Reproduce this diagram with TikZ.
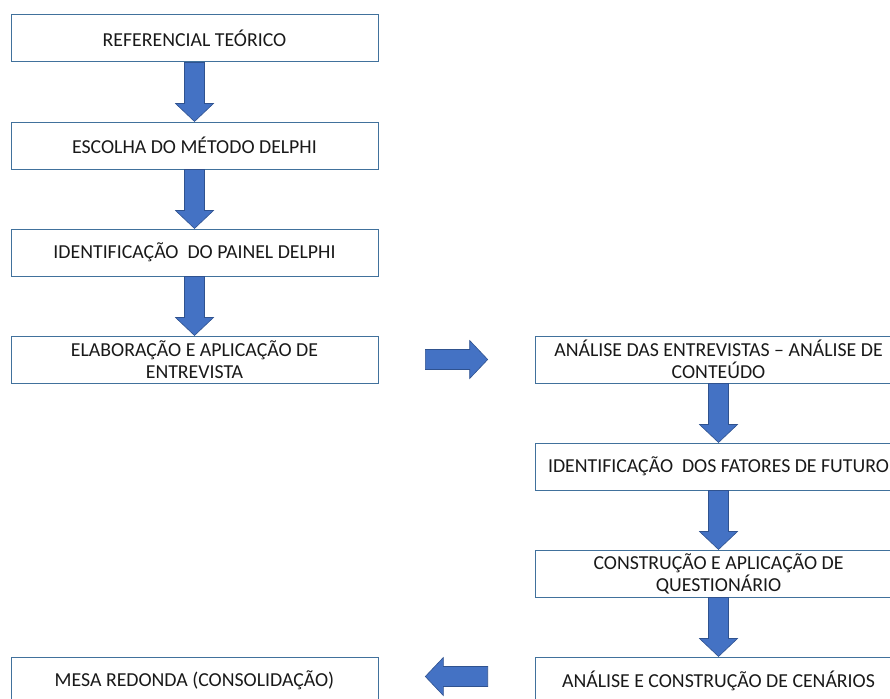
\documentclass[tikz,border=0pt]{standalone}
\usepackage{fontspec}
\setmainfont{Carlito}
\usetikzlibrary{positioning,calc}
\definecolor{boxedge}{HTML}{41719C}
\definecolor{arrowblue}{HTML}{4472C4}
\definecolor{arrowedge}{HTML}{2F528F}
\tikzset{
  stage/.style={draw=boxedge,line width=1pt,minimum width=367pt,minimum height=47pt,
    align=center,inner sep=2pt,font=\fontsize{19.8}{22}\selectfont,text=black!90},
  bigarrow/.style={fill=arrowblue,draw=arrowedge,line width=0.6pt,line join=miter}
}
% block arrow from #1 to #2
\newcommand{\blockarrow}[2]{%
  \coordinate (tiph) at ($(#2)!18pt!(#1)$);
  \draw[bigarrow] ($(#1)!10pt!90:(#2)$) -- ($(tiph)!10pt!90:(#2)$) -- ($(tiph)!19pt!90:(#2)$)
    -- (#2) -- ($(tiph)!19pt!-90:(#2)$) -- ($(tiph)!10pt!-90:(#2)$) -- ($(#1)!10pt!-90:(#2)$) -- cycle;}

\begin{document}
\begin{tikzpicture}[node distance=59pt]
\useasboundingbox (0,0) rectangle (890pt,-698pt);
% left column
\node[stage] (ref) at (194.5pt,-38.5pt) {REFERENCIAL TEÓRICO};
\node[stage,below=of ref] (metodo) {ESCOLHA DO MÉTODO DELPHI};
\node[stage,below=of metodo] (painel) {IDENTIFICAÇÃO~ DO PAINEL DELPHI};
\node[stage,below=of painel] (entrev) {ELABORAÇÃO E APLICAÇÃO DE\\ENTREVISTA};
% right column
\node[stage,right=156pt of entrev] (analise) {ANÁLISE DAS ENTREVISTAS – ANÁLISE DE\\CONTEÚDO};
\node[stage,below=of analise] (fatores) {IDENTIFICAÇÃO~ DOS FATORES DE FUTURO};
\node[stage,below=of fatores] (quest) {CONSTRUÇÃO E APLICAÇÃO DE\\QUESTIONÁRIO};
\node[stage,below=of quest] (cenarios) {ANÁLISE E CONSTRUÇÃO DE CENÁRIOS};
\node[stage,left=156pt of cenarios] (mesa) {MESA REDONDA (CONSOLIDAÇÃO)};
% arrows
\blockarrow{ref.south}{metodo.north}
\blockarrow{metodo.south}{painel.north}
\blockarrow{painel.south}{entrev.north}
\coordinate (r0) at ($(entrev.east)!0.3!(analise.west)$);
\coordinate (r1) at ($(entrev.east)!0.7!(analise.west)$);
\blockarrow{r0}{r1}
\blockarrow{analise.south}{fatores.north}
\blockarrow{fatores.south}{quest.north}
\blockarrow{quest.south}{cenarios.north}
\coordinate (l0) at ($(cenarios.west)!0.3!(mesa.east)+(0,4pt)$);
\coordinate (l1) at ($(cenarios.west)!0.7!(mesa.east)+(0,4pt)$);
\blockarrow{l0}{l1}
\end{tikzpicture}
\end{document}
